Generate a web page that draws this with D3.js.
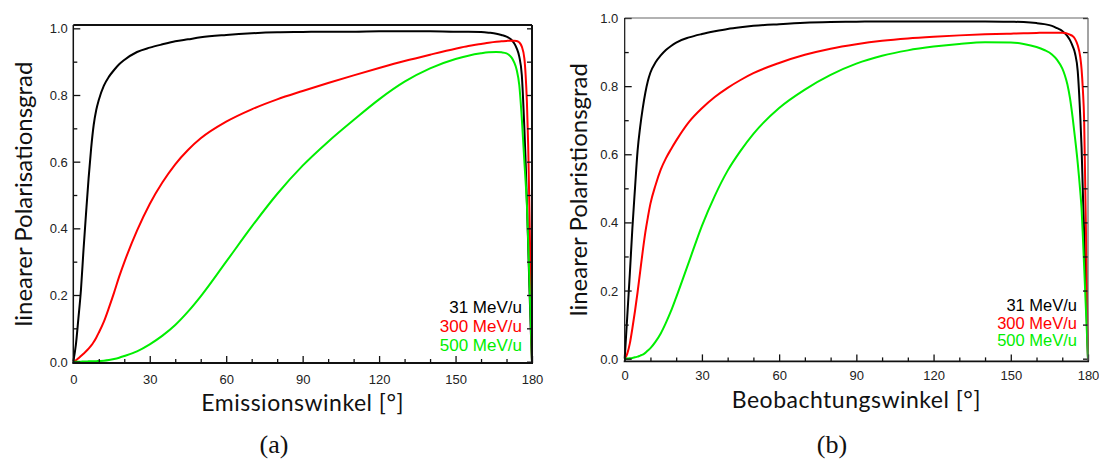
<!DOCTYPE html>
<html>
<head>
<meta charset="utf-8">
<script src="https://cdn.jsdelivr.net/npm/d3@7"></script>
<style>
  html, body { margin: 0; padding: 0; background: #fff; }
  svg { display: block; }
</style>
</head>
<body>
<svg id="chart" width="1099" height="463"></svg>
<script>
// ---------------- data ----------------
const angles = [0,1,2,3,4,5,6,7,8,9,10,12,14,16,18,20,25,30,35,40,45,50,60,70,80,90,100,110,120,130,140,150,155,160,163,166,168,170,171,172,173,174,175,176,177,177.5,178,178.5,179,179.5,180];

const seriesNames = ["31 MeV/u", "300 MeV/u", "500 MeV/u"];

// panel (a): Emissionswinkel
const a31 = [0,0.05,0.13,0.215,0.335,0.445,0.55,0.64,0.71,0.755,0.785,
  0.828,0.855,0.875,0.892,0.905,
  0.929,0.942,0.952,0.961,0.967,0.973,
  0.98,0.985,0.988,0.989,0.99,0.99,0.991,0.991,0.991,0.99,
  0.99,0.989,0.987,0.984,0.98,
  0.975,0.971,0.965,0.955,0.94,0.915,0.86,0.70,
  0.60,0.48,0.35,0.22,0.10,0];
const a300 = [0,0.004,0.01,0.017,0.024,0.031,0.039,0.048,0.059,0.072,0.087,
  0.12,0.162,0.207,0.255,0.298,
  0.393,0.473,0.538,0.592,0.635,0.67,
  0.72,0.757,0.787,0.812,0.836,0.859,0.881,0.902,0.921,0.939,
  0.947,0.953,0.957,0.96,0.961,
  0.962,0.963,0.963,0.963,0.962,0.958,0.945,0.91,
  0.86,0.78,0.65,0.45,0.23,0];
const a500 = [0,0,0,0,0.0005,0.0005,0.001,0.001,0.001,0.0015,0.002,
  0.003,0.005,0.008,0.012,0.017,
  0.031,0.052,0.078,0.11,0.15,0.196,
  0.30,0.405,0.503,0.588,0.66,0.725,0.787,0.84,0.88,0.908,
  0.918,0.925,0.928,0.929,0.928,
  0.925,0.92,0.912,0.898,0.875,0.83,0.73,0.60,
  0.54,0.47,0.36,0.24,0.12,0];

// panel (b): Beobachtungswinkel
const b31 = [0,0.125,0.25,0.385,0.50,0.61,0.68,0.735,0.78,0.815,0.84,
  0.87,0.89,0.906,0.918,0.928,
  0.943,0.953,0.961,0.968,0.973,0.977,
  0.982,0.986,0.988,0.989,0.99,0.99,0.99,0.99,0.99,0.989,
  0.988,0.985,0.982,0.977,0.97,
  0.962,0.955,0.947,0.935,0.918,0.895,0.845,0.71,
  0.62,0.49,0.37,0.25,0.12,0];
const b300 = [0,0.015,0.045,0.09,0.14,0.195,0.255,0.315,0.37,0.415,0.455,
  0.51,0.555,0.588,0.615,0.64,
  0.695,0.735,0.768,0.795,0.818,0.838,
  0.868,0.892,0.91,0.923,0.933,0.94,0.945,0.949,0.952,0.954,
  0.955,0.956,0.957,0.957,0.957,
  0.957,0.956,0.954,0.951,0.947,0.938,0.92,0.885,
  0.85,0.79,0.70,0.47,0.24,0];
const b500 = [0,0.0005,0.001,0.002,0.004,0.006,0.009,0.012,0.017,0.024,0.031,
  0.05,0.074,0.105,0.14,0.18,
  0.285,0.39,0.478,0.552,0.61,0.66,
  0.736,0.79,0.833,0.866,0.889,0.905,0.916,0.924,0.929,0.928,
  0.924,0.915,0.906,0.893,0.877,
  0.852,0.832,0.805,0.765,0.71,0.645,0.575,0.49,
  0.44,0.36,0.27,0.18,0.09,0];

const xTickLabels = [0,30,60,90,120,150,180];
const yTickLabels = ["0.0","0.2","0.4","0.6","0.8","1.0"];
const colors = ["#000000", "#ff0000", "#00ee00"];

// ---------------- drawing ----------------
const svg = d3.select("#chart");

function drawPanel(p) {
  const x = d3.scaleLinear().domain([0, 180]).range([p.left, p.right]);
  const y = d3.scaleLinear().domain(p.yDomain).range([p.bottom, p.top]);
  const g = svg.append("g");

  // curves
  const line = d3.line()
    .x((d, i) => x(angles[i]))
    .y(d => y(d))
    .curve(d3.curveMonotoneX);
  p.series.forEach((s, k) => {
    g.append("path").datum(s)
      .attr("d", line)
      .attr("fill", "none")
      .attr("stroke", colors[k])
      .attr("stroke-width", 2)
      .attr("stroke-linejoin", "round");
  });

  // bottom axis (ticks inward)
  const xAxisMajor = d3.axisBottom(x).tickValues(xTickLabels)
    .tickSizeInner(-7).tickSizeOuter(0).tickPadding(0).tickFormat(d3.format("d"));
  const gx = g.append("g").attr("transform", `translate(0,${p.bottom})`).call(xAxisMajor);
  gx.select(".domain").remove();
  gx.selectAll("line").attr("stroke", "#111").attr("stroke-width", 1.3);
  gx.selectAll("text").attr("y", p.xLabelDy).attr("dy", 0)
    .style("font-family", "'Liberation Sans', Arial, sans-serif")
    .style("font-size", "13px").attr("fill", "#222");
  const xMinor = d3.range(0, 181, 10).filter(v => v % 30 !== 0);
  const gxm = g.append("g").attr("transform", `translate(0,${p.bottom})`)
    .call(d3.axisBottom(x).tickValues(xMinor).tickSizeInner(-4).tickSizeOuter(0).tickFormat(""));
  gxm.select(".domain").remove();
  gxm.selectAll("line").attr("stroke", "#111").attr("stroke-width", 1.3);

  // left axis
  const yMajorVals = yTickLabels.map(Number);
  const gy = g.append("g").attr("transform", `translate(${p.left},0)`)
    .call(d3.axisLeft(y).tickValues(yMajorVals).tickSizeInner(-7).tickSizeOuter(0)
      .tickPadding(0).tickFormat((d, i) => yTickLabels[i]));
  gy.select(".domain").remove();
  gy.selectAll("line").attr("stroke", "#111").attr("stroke-width", 1.3);
  gy.selectAll("text").attr("x", -p.yLabelDx).attr("dy", "0.35em")
    .style("font-family", "'Liberation Sans', Arial, sans-serif")
    .style("font-size", "13px").attr("fill", "#222");
  const yMinor = [0.1,0.3,0.5,0.7,0.9];
  const gym = g.append("g").attr("transform", `translate(${p.left},0)`)
    .call(d3.axisLeft(y).tickValues(yMinor).tickSizeInner(-4).tickSizeOuter(0).tickFormat(""));
  gym.select(".domain").remove();
  gym.selectAll("line").attr("stroke", "#111").attr("stroke-width", 1.3);

  // right axis ticks
  const yAll = d3.range(0, 11).map(v => v / 10);
  const gr = g.append("g").attr("transform", `translate(${p.right},0)`)
    .call(d3.axisRight(y).tickValues(yAll).tickSizeInner(-5).tickSizeOuter(0).tickFormat(""));
  gr.select(".domain").remove();
  gr.selectAll("line").attr("stroke", "#111").attr("stroke-width", 1.3);

  // frame
  const top = p.top, bot = p.bottom;
  g.append("line").attr("x1", p.left).attr("x2", p.right).attr("y1", top).attr("y2", top)
    .attr("stroke", p.frameTopColor).attr("stroke-width", p.frameTopW);
  g.append("line").attr("x1", p.right).attr("x2", p.right).attr("y1", top).attr("y2", bot)
    .attr("stroke", p.frameTopColor).attr("stroke-width", p.frameTopW);
  g.append("line").attr("x1", p.left).attr("x2", p.left).attr("y1", top).attr("y2", bot)
    .attr("stroke", "#111").attr("stroke-width", p.frameLeftW);
  g.append("line").attr("x1", p.left - 1).attr("x2", p.right + 1).attr("y1", bot).attr("y2", bot)
    .attr("stroke", "#111").attr("stroke-width", p.frameBottomW);

  // legend
  seriesNames.forEach((name, k) => {
    g.append("text")
      .attr("x", p.legendX).attr("y", p.legendY + k * p.legendStep)
      .attr("text-anchor", "end")
      .style("font-family", "'Liberation Sans', Arial, sans-serif")
      .style("font-size", p.legendSize + "px")
      .attr("fill", colors[k])
      .text(name);
  });

  // axis titles
  g.append("text")
    .attr("x", (p.left + p.right) / 2).attr("y", p.xTitleY)
    .attr("text-anchor", "middle")
    .style("font-family", "Lato, 'Open Sans', sans-serif")
    .style("font-size", "23px").style("letter-spacing", "0.5px").attr("fill", "#111")
    .text(p.xTitle);
  g.append("text")
    .attr("transform", `translate(${p.yTitleX},${(p.top + p.bottom) / 2}) rotate(-90)`)
    .attr("text-anchor", "middle")
    .style("font-family", "Lato, 'Open Sans', sans-serif")
    .style("font-size", "24px").attr("fill", "#111")
    .text(p.yTitle);

  // caption
  g.append("text")
    .attr("x", p.captionX).attr("y", 453)
    .attr("text-anchor", "middle")
    .style("font-family", "'Liberation Serif', 'DejaVu Serif', serif")
    .style("font-size", "26px").attr("fill", "#111")
    .text(p.caption);
}

drawPanel({
  left: 73.3, right: 532, top: 25, bottom: 363, yDomain: [-0.004, 1.01],
  series: [a31, a300, a500],
  xLabelDy: 21, yLabelDx: 5.5,
  frameTopColor: "#111", frameTopW: 2, frameLeftW: 1.5, frameBottomW: 2.2,
  legendX: 522, legendY: 313, legendStep: 19, legendSize: 17,
  xTitle: "Emissionswinkel [°]", xTitleY: 411,
  yTitle: "linearer Polarisationsgrad", yTitleX: 32,
  caption: "(a)", captionX: 274
});

drawPanel({
  left: 624.7, right: 1088, top: 18, bottom: 361.4, yDomain: [-0.008, 1.0],
  series: [b31, b300, b500],
  xLabelDy: 18.5, yLabelDx: 6.4,
  frameTopColor: "#666", frameTopW: 1.2, frameLeftW: 1.2, frameBottomW: 1.6,
  legendX: 1077, legendY: 311, legendStep: 17.5, legendSize: 16.5,
  xTitle: "Beobachtungswinkel [°]", xTitleY: 408,
  yTitle: "linearer Polaristionsgrad", yTitleX: 587,
  caption: "(b)", captionX: 832
});
</script>
</body>
</html>
